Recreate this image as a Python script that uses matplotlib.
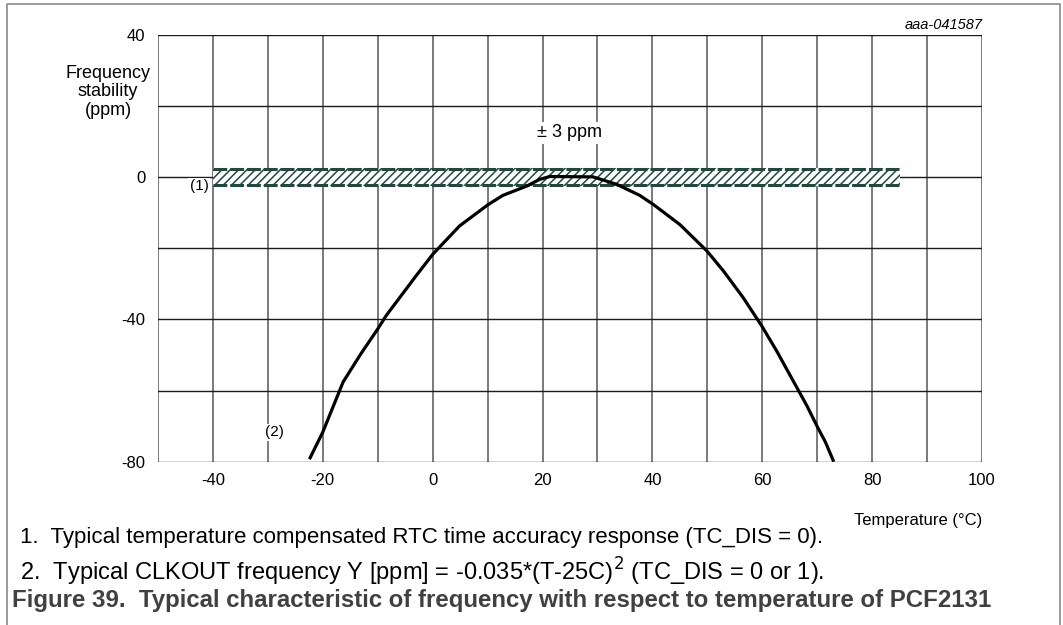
import matplotlib
matplotlib.use("Agg")
import matplotlib.pyplot as plt
from matplotlib.lines import Line2D

plt.rcParams['font.family'] = ['Liberation Sans', 'DejaVu Sans']
plt.rcParams['hatch.linewidth'] = 1.1

# Data
curve_t = [-22.3, -20.0, -16.3, -13.0, -10.0, -8.5, -3.0, 0.0, 4.9, 10.1, 12.8, 17.1, 19.5, 21.3,
           29.2, 33.5, 37.7, 40.2, 45.0, 49.9, 52.9, 56.5, 59.9, 62.6, 66.6, 68.1, 70.2, 71.5, 72.9]
curve_ppm = [-78.9, -71.7, -57.6, -49.5, -42.7, -39.0, -27.7, -21.7, -13.7, -7.7, -5.1, -2.5, -0.6, 0.2,
             0.1, -2.0, -5.1, -7.7, -13.3, -20.7, -26.3, -33.8, -41.8, -48.8, -60.0, -64.2, -70.7, -74.5, -79.6]
band_t = [-40, 85]
band_low = [-2.6, -2.6]
band_high = [2.6, 2.6]
x_ticks = [-40, -20, 0, 20, 40, 60, 80, 100]
y_ticks = [40, 0, -40, -80]
x_grid = list(range(-50, 101, 10))
y_grid = list(range(-80, 41, 20))

band_col = '#1f4a3b'

fig = plt.figure(figsize=(10.63, 6.25), dpi=100)
ax = fig.add_axes([0.1486, 0.2613, 0.7752, 0.6827])
ax.set_xlim(-50, 100)
ax.set_ylim(-80, 40)

for xv in x_grid:
    ax.axvline(xv, color='#707070', lw=1.3, zorder=1)
for yv in y_grid:
    ax.axhline(yv, color='#1a1a1a', lw=1.0, zorder=1)

for s in ax.spines.values():
    s.set_visible(False)

ax.set_xticks(x_ticks)
ax.set_yticks(y_ticks)
ax.set_xticklabels([str(v) for v in x_ticks])
ax.set_yticklabels([str(v) for v in y_ticks])
ax.tick_params(length=0, labelsize=12, pad=8, colors='black')
ax.tick_params(axis='y', pad=9)

# hatched tolerance band
ax.fill_between(band_t, band_low, band_high, facecolor='white', edgecolor=band_col,
                hatch='////', lw=0, zorder=3)
for yv in (band_low[0] + 0.4, band_high[0] - 0.4):
    ax.plot(band_t, [yv, yv], color=band_col, lw=2.2, dashes=(4.5, 1.0), zorder=4,
            solid_capstyle='butt', dash_capstyle='butt')

ax.plot(curve_t, curve_ppm, color='black', lw=2.3, zorder=5, solid_joinstyle='round')

ax.text(25, 12.5, '\u00b1 3 ppm', ha='center', va='center', fontsize=13, zorder=6,
        bbox=dict(facecolor='white', edgecolor='none', pad=2))
ax.text(-42.5, -2.6, '(1)', ha='center', va='center', fontsize=11, zorder=6,
        bbox=dict(facecolor='white', edgecolor='none', pad=1))
ax.text(-28.8, -71.7, '(2)', ha='center', va='center', fontsize=11, zorder=6,
        bbox=dict(facecolor='white', edgecolor='none', pad=1))

fig.text(108 / 1063, 1 - 92 / 625, 'Frequency\nstability\n(ppm)', ha='center', va='center',
         fontsize=13, linespacing=1.15)
fig.text(982 / 1063, 1 - 521 / 625, 'Temperature (\u00b0C)', ha='right', va='center', fontsize=12)
fig.text(983 / 1063, 1 - 25 / 625, 'aaa-041587', ha='right', va='center', fontsize=10.5,
         style='italic')

fig.text(20 / 1063, 1 - 538 / 625,
         '1.  Typical temperature compensated RTC time accuracy response (TC_DIS = 0).',
         ha='left', va='center', fontsize=16)
fig.text(20 / 1063, 1 - 572 / 625,
         '2.  Typical CLKOUT frequency Y [ppm] = -0.035*(T-25C)$^2$ (TC_DIS = 0 or 1).',
         ha='left', va='center', fontsize=17)
fig.text(12 / 1063, 1 - 601 / 625,
         'Figure 39.  Typical characteristic of frequency with respect to temperature of PCF2131',
         ha='left', va='center', fontsize=17.3, fontweight='bold', color='#404040')

# outer frame
fx0, fx1, fy1 = 7 / 1063, 1060 / 1063, 1 - 4 / 625
fig.add_artist(Line2D([fx0, fx0, fx1, fx1], [0, fy1, fy1, 0], transform=fig.transFigure,
                      color='#8a8a8a', lw=1.2))

fig.savefig('out.png', dpi=100)
